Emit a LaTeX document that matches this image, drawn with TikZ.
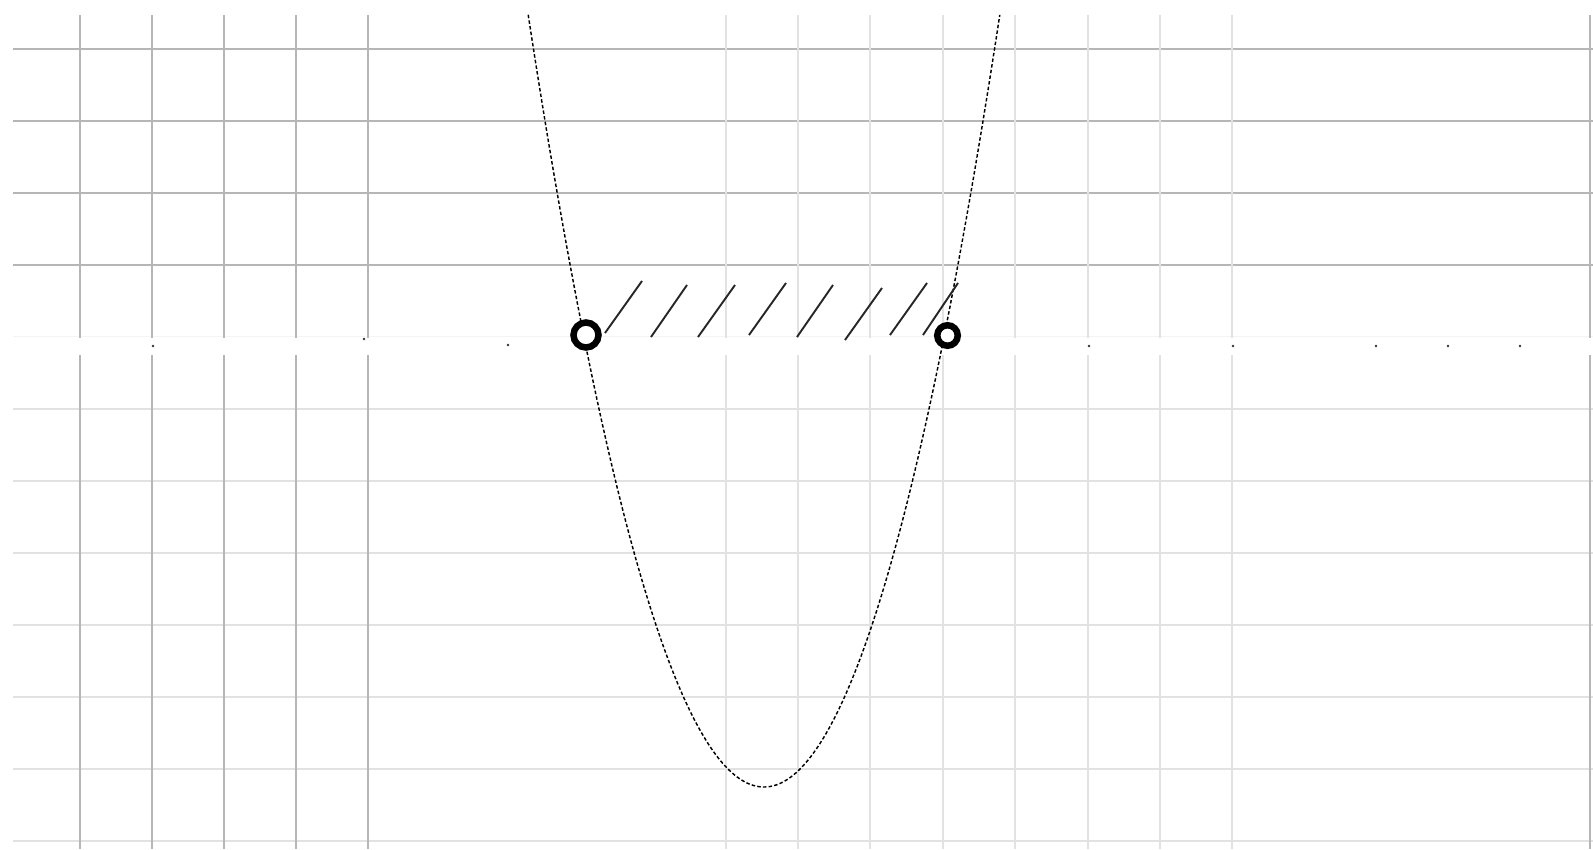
\documentclass[tikz,border=0pt]{standalone}
\usetikzlibrary{calc}
\definecolor{gdark}{HTML}{B6B6B6}
\definecolor{glight}{HTML}{E2E2E2}
\definecolor{gaxis}{HTML}{F4F4F4}
\tikzset{
  darkline/.style={draw=gdark, line width=2pt},
  lightline/.style={draw=glight, line width=2pt},
  curve/.style={draw=black, line width=1.45pt, dash pattern=on 3.5pt off 2.2pt},
  hatch/.style={draw=black!85, line width=1.9pt},
  hole/.style={circle, draw=black, fill=white, line width=6.5pt, inner sep=0pt},
  speck/.style={fill=black!80}
}
\begin{document}
\begin{tikzpicture}[x=1pt,y=-1pt]
\useasboundingbox (0,0) rectangle (1593,849);
\fill[white] (0,0) rectangle (1593,849);
% horizontal grid lines
\foreach \j in {0,...,3} \draw[darkline] (13,{48.7+72*\j}) -- (1593,{48.7+72*\j});
\draw[draw=gaxis, line width=1.5pt] (13,336.7) -- (1593,336.7);
\foreach \j in {5,...,11} \draw[lightline] (13,{48.7+72*\j}) -- (1593,{48.7+72*\j});
% vertical grid lines
\foreach \x in {80,152,224,296,368} {
  \draw[darkline] (\x,15) -- (\x,338);
  \draw[darkline] (\x,355) -- (\x,849);
}
\foreach \x in {726,798,870,943,1015,1088,1160,1232} {
  \draw[lightline] (\x,15) -- (\x,338);
  \draw[lightline] (\x,355) -- (\x,849);
}
\draw[darkline] (1590,15) -- (1590,338);
\draw[darkline] (1590,355) -- (1590,849);
% specks on the axis
\foreach \p in {(153,346),(364,339),(508,345),(1089,346),(1233,346),(1376,346),(1448,346),(1520,346)}
  \fill[speck] \p circle (1.3pt);
% parabola
\draw[curve, domain=6.225:12.775, samples=240, smooth]
  plot ({80+72*\x}, {337-72*(\x-7)*(\x-12)});
% hatching
\foreach \a/\b/\c/\d in {605/333/642/281, 651/337/687/285, 698/337/735/285, 749/335/786/283,
                         797/337/833/285, 845/340/882/288, 890/335/927/283, 923/335/958/283}
  \draw[hatch] (\a,\b) -- (\c,\d);
% open endpoints
\node[hole, minimum size=25pt] (left) at (586,335) {};
\node[hole, minimum size=20.5pt] (right) at (947.5,335.5) {};
\end{tikzpicture}
\end{document}
